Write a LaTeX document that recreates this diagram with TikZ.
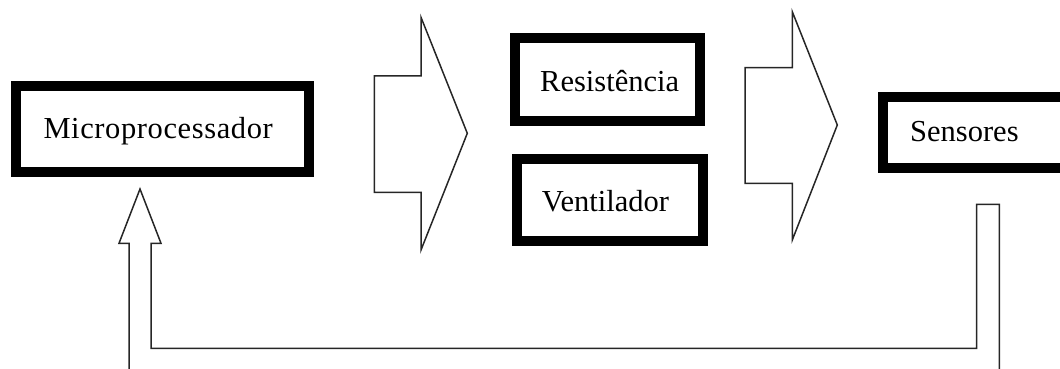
\documentclass[tikz,border=0pt]{standalone}
\usepackage{fontspec}
\setmainfont{Liberation Serif}
\begin{document}
\begin{tikzpicture}[x=1pt,y=-1pt,
  blockbox/.style={draw=black, line width=10pt, fill=white, inner sep=0pt},
  label/.style={anchor=base west, inner sep=0pt, font=\fontsize{30.5}{36}\selectfont},
  outline/.style={draw=black!85, line width=1.5pt, line join=miter}]
\useasboundingbox (0,0) rectangle (1060,369);
\clip (0,0) rectangle (1060,369);

% component boxes
\node[blockbox, minimum width=293.5pt, minimum height=86pt] (micro) at (162.25,128.5) {};
\node[blockbox, minimum width=185pt, minimum height=82.2pt] (resist) at (607.5,79.4) {};
\node[blockbox, minimum width=186pt, minimum height=81.8pt] (vent) at (610.3,199.6) {};
\node[blockbox, minimum width=197pt, minimum height=71.3pt] (sens) at (981.5,132.35) {};

% box captions
\node[label] (microtxt) at (43.3,138.3) {\addfontfeature{LetterSpace=2}Microprocessador};
\node[label] (resisttxt) at (540,91.7) {Resistência};
\node[label] (venttxt) at (541.7,211.7) {Ventilador};
\node[label] (senstxt) at (910,141) {Sensores};

% block arrows between the stages
\draw[outline] (374.3,76) -- (421,76) -- (421,17.3) -- (467.3,133.3)
  -- (421,250) -- (421,192.3) -- (374.3,192.3) -- cycle;
\draw[outline] (745,67.7) -- (792.3,67.7) -- (792.3,11.7) -- (837.3,125)
  -- (792.3,240) -- (792.3,183.3) -- (745,183.3) -- cycle;

% feedback path from the sensors back to the microprocessor
\coordinate (fbtip) at (140,189);
\draw[outline] (129,375) -- (129,243.3) -- (119,243.3) -- (fbtip)
  -- (161,243.3) -- (151,243.3) -- (151,348.3) -- (976.7,348.3)
  -- (976.7,204.3) -- (999.3,204.3) -- (999.3,375);
\end{tikzpicture}
\end{document}
